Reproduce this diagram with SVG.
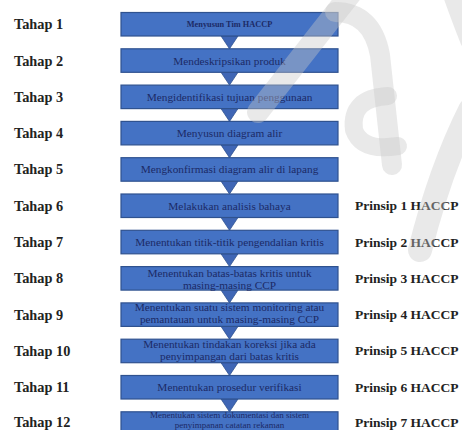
<svg xmlns="http://www.w3.org/2000/svg" width="462" height="430" viewBox="0 0 462 430">
<style>
.box{fill:#4472c4;stroke:#2f528f;stroke-width:1.2}
.arr{fill:#3f66b5;stroke:#2f528f;stroke-width:0.8}
.bt{font-family:"Liberation Serif",serif;font-size:11.3px;fill:#1c2a66;text-anchor:middle}
.bs{font-family:"Liberation Serif",serif;font-size:9px;fill:#1c2a66;text-anchor:middle}
.b1{font-family:"Liberation Serif",serif;font-size:8.3px;font-weight:bold;fill:#1c2a66;text-anchor:middle}
.lbl{font-family:"Liberation Serif",serif;font-size:14.3px;font-weight:bold;fill:#222}
.pr{font-family:"Liberation Serif",serif;font-size:13.5px;font-weight:bold;fill:#222}
.wm{fill:none;stroke:#c8c8c8;stroke-opacity:0.4;stroke-linecap:round;stroke-linejoin:round}
</style>
<rect width="462" height="430" fill="#ffffff"/>
<g id="labels-left">
<text class="lbl" x="14" y="29.3">Tahap 1</text>
<text class="lbl" x="14" y="65.5">Tahap 2</text>
<text class="lbl" x="14" y="101.8">Tahap 3</text>
<text class="lbl" x="14" y="138.1">Tahap 4</text>
<text class="lbl" x="14" y="174.4">Tahap 5</text>
<text class="lbl" x="14" y="210.7">Tahap 6</text>
<text class="lbl" x="14" y="247">Tahap 7</text>
<text class="lbl" x="14" y="283.3">Tahap 8</text>
<text class="lbl" x="14" y="319.6">Tahap 9</text>
<text class="lbl" x="14" y="355.9">Tahap 10</text>
<text class="lbl" x="14" y="392.2">Tahap 11</text>
<text class="lbl" x="14" y="427">Tahap 12</text>
</g>
<g id="labels-right">
<text class="pr" x="355" y="210.2">Prinsip 1 HACCP</text>
<text class="pr" x="355" y="246.5">Prinsip 2 HACCP</text>
<text class="pr" x="355" y="282.8">Prinsip 3 HACCP</text>
<text class="pr" x="355" y="319.1">Prinsip 4 HACCP</text>
<text class="pr" x="355" y="355.4">Prinsip 5 HACCP</text>
<text class="pr" x="355" y="391.7">Prinsip 6 HACCP</text>
<text class="pr" x="355" y="426.5">Prinsip 7 HACCP</text>
</g>
<g id="connectors">
<polygon class="arr" points="221,36 238,36 229.5,48.8"/>
<polygon class="arr" points="221,72.3 238,72.3 229.5,85.1"/>
<polygon class="arr" points="221,108.6 238,108.6 229.5,121.4"/>
<polygon class="arr" points="221,144.9 238,144.9 229.5,157.7"/>
<polygon class="arr" points="221,181.2 238,181.2 229.5,194"/>
<polygon class="arr" points="221,217.5 238,217.5 229.5,230.3"/>
<polygon class="arr" points="221,253.8 238,253.8 229.5,266.6"/>
<polygon class="arr" points="221,290.1 238,290.1 229.5,302.9"/>
<polygon class="arr" points="221,326.4 238,326.4 229.5,339.2"/>
<polygon class="arr" points="221,362.7 238,362.7 229.5,375.5"/>
<polygon class="arr" points="221,399 238,399 229.5,411.8"/>
</g>
<g id="step1"><rect class="box" x="121" y="12.5" width="217" height="23.5"/><text class="b1" x="229.5" y="27">Menyusun Tim HACCP</text></g>
<g id="step2"><rect class="box" x="121" y="48.8" width="217" height="23.5"/><text class="bt" x="229.5" y="64.5">Mendeskripsikan produk</text></g>
<g id="step3"><rect class="box" x="121" y="85.1" width="217" height="23.5"/><text class="bt" x="229.5" y="100.8">Mengidentifikasi tujuan penggunaan</text></g>
<g id="step4"><rect class="box" x="121" y="121.4" width="217" height="23.5"/><text class="bt" x="229.5" y="137.1">Menyusun diagram alir</text></g>
<g id="step5"><rect class="box" x="121" y="157.7" width="217" height="23.5"/><text class="bt" x="229.5" y="173.4">Mengkonfirmasi diagram alir di lapang</text></g>
<g id="step6"><rect class="box" x="121" y="194" width="217" height="23.5"/><text class="bt" x="229.5" y="209.7">Melakukan analisis bahaya</text></g>
<g id="step7"><rect class="box" x="121" y="230.3" width="217" height="23.5"/><text class="bt" x="229.5" y="246">Menentukan titik-titik pengendalian kritis</text></g>
<g id="step8"><rect class="box" x="121" y="266.6" width="217" height="23.5"/><text class="bt" x="229.5" y="276.6">Menentukan batas-batas kritis untuk</text><text class="bt" x="229.5" y="289">masing-masing CCP</text></g>
<g id="step9"><rect class="box" x="121" y="302.9" width="217" height="23.5"/><text class="bt" x="229.5" y="311.4">Menentukan suatu sistem monitoring atau</text><text class="bt" x="229.5" y="323.4">pemantauan untuk masing-masing CCP</text></g>
<g id="step10"><rect class="box" x="121" y="339.2" width="217" height="23.5"/><text class="bt" x="229.5" y="347.7">Menentukan tindakan koreksi jika ada</text><text class="bt" x="229.5" y="359.7">penyimpangan dari batas kritis</text></g>
<g id="step11"><rect class="box" x="121" y="375.5" width="217" height="23.5"/><text class="bt" x="229.5" y="391.2">Menentukan prosedur verifikasi</text></g>
<g id="step12"><rect class="box" x="121" y="411.8" width="217" height="23.5"/><text class="bs" x="229.5" y="417.6">Menentukan sistem dokumentasi dan sistem</text><text class="bs" x="229.5" y="427.8">penyimpanan catatan rekaman</text></g>
<g id="watermark">
<path class="wm" stroke-width="22" d="M352 -8 L258 112"/>
<path class="wm" stroke-width="20" d="M335 12 Q372 12 380 55 L392 165"/>
<path class="wm" stroke-width="18" d="M388 96 Q350 98 354 130 Q362 152 398 146"/>
<path class="wm" stroke-width="20" d="M452 -8 Q462 20 470 40"/>
<path class="wm" stroke-width="24" d="M470 110 Q440 170 420 250"/>
</g>
</svg>
